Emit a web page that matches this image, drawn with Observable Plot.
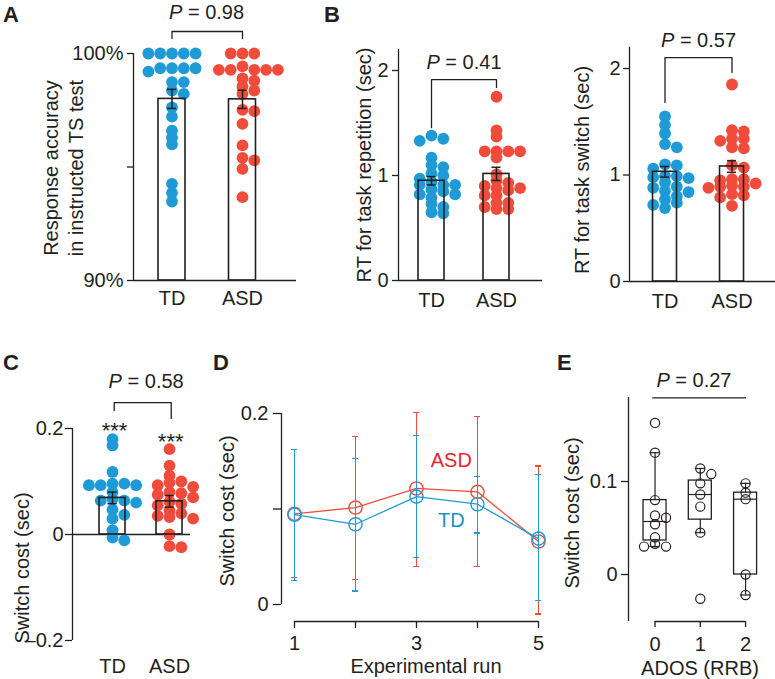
<!DOCTYPE html>
<html><head><meta charset="utf-8">
<script src="https://cdn.jsdelivr.net/npm/d3@7"></script>
<script src="https://cdn.jsdelivr.net/npm/@observablehq/plot@0.6"></script>
<style>
body{margin:0;background:#fff;}
#fig{position:relative;width:775px;height:679px;overflow:hidden;font-family:"Liberation Sans",Arial,Helvetica,sans-serif;color:#231f20;background:#fff;}
.lbl{position:absolute;white-space:nowrap;font-size:20px;line-height:1;transform:translate(-50%,-50%);}
.rot{transform:translate(-50%,-50%) rotate(-90deg);}
.letter{position:absolute;font-weight:bold;font-size:22px;line-height:1;}
</style></head><body><div id="fig"></div>
<script>
// ---------------- data ----------------
const groups = ["TD", "ASD"];
// A: response accuracy (%)
const accTD = [100,100,100,100,100,99.35,99.35,99.35,99.35,99.2,98.74,98.74,98.37,98.22,97.63,97.22,96.6,96.29,96.0,94.26,93.86,93.48];
const accASD = [100,100,100,99.43,99.28,99.28,99.28,99.28,99.28,98.9,98.8,98.55,98.37,98.22,97.52,97.46,96.9,95.95,95.4,95.29,94.92,93.67];
const accMean = [98.0, 97.98];
const accSem = [0.42, 0.40];
// B: RT task repetition (sec)
const rtRepTD = [1.38,1.35,1.33,1.17,1.10,1.08,1.02,1.00,0.97,0.94,0.91,0.91,0.91,0.87,0.85,0.82,0.82,0.79,0.73,0.70,0.65,0.64];
const rtRepASD = [1.75,1.43,1.37,1.23,1.23,1.23,1.23,1.17,1.01,0.95,0.93,0.90,0.88,0.88,0.86,0.81,0.81,0.74,0.74,0.70,0.68,0.68];
const rtRepMean = [0.95, 1.015];
const rtRepSem = [0.04, 0.063];
// B: RT task switch (sec)
const rtSwTD = [1.55,1.47,1.39,1.29,1.26,1.10,1.09,1.06,0.99,0.99,0.98,0.97,0.93,0.89,0.88,0.85,0.84,0.80,0.77,0.74,0.72,0.69];
const rtSwASD = [1.85,1.42,1.41,1.34,1.34,1.32,1.26,1.25,1.09,1.07,0.96,0.96,0.95,0.92,0.90,0.89,0.89,0.88,0.82,0.81,0.79,0.71];
const rtSwMean = [1.03, 1.08];
const rtSwSem = [0.05, 0.055];
// C: switch cost (sec)
const costTD = [0.180,0.168,0.118,0.096,0.096,0.093,0.093,0.093,0.080,0.067,0.064,0.064,0.060,0.047,0.037,0.030,0.008,-0.006,-0.011];
const costASD = [0.161,0.130,0.111,0.100,0.098,0.093,0.090,0.080,0.078,0.075,0.070,0.062,0.058,0.055,0.045,0.040,0.035,0.033,0.030,0.000,-0.024,-0.022];
const costMean = [0.069, 0.0626];
const costSem = [0.011, 0.011];
// D: switch cost by experimental run
const runs = [1, 2, 3, 4, 5];
const runASD = [0.095, 0.1015, 0.1215, 0.118, 0.066];
const runASDlo = [0.028, 0.026, 0.040, 0.040, -0.010];
const runASDhi = [0.162, 0.176, 0.201, 0.197, 0.145];
const runTD = [0.094, 0.084, 0.113, 0.105, 0.069];
const runTDlo = [0.025, 0.014, 0.049, 0.075, 0.004];
const runTDhi = [0.162, 0.153, 0.177, 0.134, 0.136];
// E: switch cost by ADOS (RRB)
const adosLevels = [0, 1, 2];
const ados0 = [0.163,0.131,0.080,0.0634,0.061,0.054,0.040,0.033,0.030,0.030];
const ados1 = [0.114,0.108,0.098,0.086,0.073,0.045,-0.026];
const ados2 = [0.098,0.088,0.081,0.0,-0.022];
const boxQ1 = [0.0366, 0.059, 0.0];
const boxMed = [0.057, 0.086, 0.081];
const boxQ3 = [0.080, 0.101, 0.088];
const boxLo = [0.030, 0.045, -0.022];
const boxHi = [0.131, 0.114, 0.098];
// p values
const pA = "0.98", pB1 = "0.41", pB2 = "0.57", pC = "0.58", pE = "0.27";

// ---------------- style ----------------
const BLUE = "#1e9bd6", RED = "#f04b3b", INK = "#231f20";
const STYLE = "position:absolute;left:0;top:0;background:transparent;overflow:visible;font-family:'Liberation Sans',Arial,sans-serif;font-size:20px;color:#231f20;";
const fig = document.getElementById("fig");

// beeswarm layout (pixel-space greedy, grid steps)
function swarm(vals, center, yPx, xPx, step, collide) {
  const placed = [];
  const order = vals.map(v => v).sort((a, b) => b - a);
  for (const v of order) {
    const py = v * yPx;
    for (let k = 0; k < 60; k++) {
      const off = k === 0 ? 0 : (k % 2 ? Math.ceil(k / 2) : -k / 2) * step;
      if (placed.every(q => Math.hypot(q.ox - off, q.py - py) >= collide)) {
        placed.push({v, py, ox: off});
        break;
      }
    }
  }
  return placed.map(p => ({value: p.v, x: center + p.ox / xPx}));
}

function frameOpts(c) {
  return {
    width: 775, height: 679,
    marginLeft: c.left, marginRight: 775 - c.right, marginTop: c.top, marginBottom: 679 - c.bottom,
    x: {domain: c.xDomain, label: null},
    y: {domain: c.yDomain, label: null},
    style: STYLE
  };
}

function barPanel(c) {
  const xPx = (c.right - c.left) / (c.xDomain[1] - c.xDomain[0]);
  const yPx = (c.bottom - c.top) / (c.yDomain[1] - c.yDomain[0]);
  const dTD = swarm(c.td, 0, yPx, xPx, 11.8, 6);
  const dASD = swarm(c.asd, 1, yPx, xPx, 11.8, 6);
  const bars = groups.map((g, i) => ({i, mean: c.means[i], sem: c.sems[i]}));
  const caps = bars.flatMap(b => [b.mean - b.sem, b.mean + b.sem].map(y => ({i: b.i, y})));
  const bh = c.barPx / 2 / xPx, ch = 4.5 / xPx;
  const marks = [
    Plot.ruleX([0], {x: () => c.xDomain[0], y1: () => c.yDomain[0], y2: () => c.yDomain[1], stroke: INK, strokeWidth: 1.3}),
    Plot.ruleY([c.base], {stroke: INK, strokeWidth: 1.3}),
    Plot.dot(dTD, {x: "x", y: "value", r: 5.9, fill: BLUE}),
    Plot.dot(dASD, {x: "x", y: "value", r: 5.9, fill: RED}),
    Plot.rect(bars, {x1: d => d.i - bh, x2: d => d.i + bh, y1: () => c.base, y2: "mean", fill: "none", stroke: INK, strokeWidth: 1.6}),
    Plot.ruleX(bars, {x: "i", y1: d => d.mean - d.sem, y2: d => d.mean + d.sem, stroke: INK, strokeWidth: 1.5}),
    Plot.ruleY(caps, {y: "y", x1: d => d.i - ch, x2: d => d.i + ch, stroke: INK, strokeWidth: 1.5}),
    Plot.line(c.bracket, {x: d => d[0], y: d => d[1], stroke: INK, strokeWidth: 1.3}),
    Plot.text([c.p], {x: d => d.x, y: d => d.y, text: d => "P = " + d.v, fontSize: 20, fill: INK}),
    Plot.axisY({ticks: c.yTicks, tickFormat: c.yFmt, tickSize: c.yTickSize, tickPadding: c.yPad, fontSize: 20, stroke: INK, strokeWidth: 1.3, label: null}),
    Plot.axisX({ticks: [0, 1], tickFormat: i => groups[i], tickSize: 0, tickPadding: c.xPad, fontSize: 20, label: null})
  ];
  if (c.stars) marks.push(Plot.text(c.stars, {x: d => d.x, y: d => d.y, text: () => "***", fontSize: 22, fill: INK}));
  return Plot.plot({...frameOpts(c), marks});
}

const panels = [];
// A
panels.push(barPanel({
  left: 133, right: 296, top: 53, bottom: 280, xDomain: [-0.546, 1.766], yDomain: [90, 100], base: 90,
  td: accTD, asd: accASD, means: accMean, sems: accSem, barPx: 27,
  yTicks: [90, 95, 100], yFmt: d => d === 95 ? "" : d + "%", yTickSize: 6, yPad: 4, xPad: 10,
  bracket: [[0, 100.66], [0, 100.97], [1, 100.97], [1, 100.66]],
  p: {x: 0.49, y: 101.8, v: pA}
}));
// B1
panels.push(barPanel({
  left: 398, right: 542, top: 49, bottom: 280, xDomain: [-0.508, 1.708], yDomain: [0, 2.2], base: 0,
  td: rtRepTD, asd: rtRepASD, means: rtRepMean, sems: rtRepSem, barPx: 26,
  yTicks: [0, 1, 2], yFmt: d => String(d), yTickSize: 6, yPad: 4, xPad: 12,
  bracket: [[0, 1.457], [0, 1.914], [1, 1.914], [1, 1.838]],
  p: {x: 0.5, y: 2.08, v: pB1}
}));
// B2
panels.push(barPanel({
  left: 629, right: 775, top: 46.7, bottom: 281, xDomain: [-0.53, 1.649], yDomain: [0, 2.2], base: 0,
  td: rtSwTD, asd: rtSwASD, means: rtSwMean, sems: rtSwSem, barPx: 24,
  yTicks: [0, 1, 2], yFmt: d => String(d), yTickSize: 6, yPad: 3, xPad: 12,
  bracket: [[0, 1.681], [0, 2.103], [1, 2.103], [1, 1.962]],
  p: {x: 0.5, y: 2.258, v: pB2}
}));
// C
panels.push(barPanel({
  left: 72, right: 190, top: 428, bottom: 640, xDomain: [-0.702, 1.368], yDomain: [-0.2, 0.2], base: 0,
  td: costTD, asd: costASD, means: costMean, sems: costSem, barPx: 26,
  yTicks: [-0.2, 0, 0.2], yFmt: d => d === 0 ? "0" : (d < 0 ? "\u20130.2" : "0.2"), yTickSize: 7, yPad: 2, xPad: 18,
  bracket: [[0.03, 0.234], [0.03, 0.249], [1.03, 0.249], [1.03, 0.219]],
  p: {x: 0.59, y: 0.2887, v: pC},
  stars: [{x: 0.035, y: 0.196}, {x: 1.02, y: 0.174}]
}));

// D
(function () {
  const c = {left: 281, right: 545, top: 413, bottom: 621, xDomain: [1 - 13 / 61, 5 + 7 / 61], yDomain: [-0.0178, 0.2]};
  const series = [
    {color: RED, m: runASD, lo: runASDlo, hi: runASDhi},
    {color: BLUE, m: runTD, lo: runTDlo, hi: runTDhi}
  ];
  const marks = [
    Plot.ruleX([0], {x: () => c.xDomain[0], y1: () => 0, y2: () => 0.2, stroke: INK, strokeWidth: 1.3}),
    Plot.ruleY([c.yDomain[0]], {x1: () => 1, x2: () => 5, stroke: INK, strokeWidth: 1.3}),
    Plot.axisY({ticks: [0, 0.1, 0.2], tickFormat: d => d === 0 ? "0" : d === 0.2 ? "0.2" : "", tickSize: 8, tickPadding: 5, fontSize: 20, stroke: INK, strokeWidth: 1.3, label: null}),
    Plot.axisX({ticks: runs, tickFormat: d => d % 2 ? String(d) : "", tickSize: 7, tickPadding: 7, fontSize: 20, stroke: INK, strokeWidth: 1.3, label: null})
  ];
  for (const s of series) {
    const pts = runs.map((r, i) => ({run: r, mean: s.m[i], lo: s.lo[i], hi: s.hi[i]}));
    const caps = pts.flatMap(p => [p.lo, p.hi].map(y => ({run: p.run, y})));
    marks.push(
      Plot.ruleX(pts, {x: "run", y1: "lo", y2: "hi", stroke: s.color, strokeWidth: 1.3, shapeRendering: "crispEdges"}),
      Plot.ruleY(caps, {y: "y", x1: d => d.run - 0.05, x2: d => d.run + 0.05, stroke: s.color, strokeWidth: 1.3, shapeRendering: "crispEdges"}),
      Plot.line(pts, {x: "run", y: "mean", stroke: s.color, strokeWidth: 1.3}),
      Plot.dot(pts, {x: "run", y: "mean", r: 6.6, stroke: s.color, strokeWidth: 1.4, fill: "none"})
    );
  }
  marks.push(
    Plot.text(["ASD"], {x: () => 3.57, y: () => 0.1508, text: d => d, fill: "#e8262d", fontSize: 20}),
    Plot.text(["TD"], {x: () => 3.57, y: () => 0.088, text: d => d, fill: "#1b8fcb", fontSize: 20})
  );
  panels.push(Plot.plot({...frameOpts(c), marks}));
})();

// E
(function () {
  const c = {left: 628, right: 765, top: 397, bottom: 621, xDomain: [-0.586, 2.44], yDomain: [-0.0505, 0.1903]};
  const xPx = (c.right - c.left) / (c.xDomain[1] - c.xDomain[0]);
  const yPx = (c.bottom - c.top) / (c.yDomain[1] - c.yDomain[0]);
  const vals = [ados0, ados1, ados2];
  const pts = vals.flatMap((v, i) => swarm(v, adosLevels[i], yPx, xPx, 11, 6));
  const boxes = adosLevels.map((l, i) => ({l, q1: boxQ1[i], med: boxMed[i], q3: boxQ3[i], lo: boxLo[i], hi: boxHi[i]}));
  const bh = 11.5 / xPx, ch = 5 / xPx;
  const caps = boxes.flatMap(b => [b.lo, b.hi].map(y => ({l: b.l, y})));
  const marks = [
    Plot.ruleX([0], {x: () => c.xDomain[0], y1: () => c.yDomain[0], y2: () => c.yDomain[1], stroke: INK, strokeWidth: 1.3}),
    Plot.ruleY([c.yDomain[0]], {x1: () => 0, x2: () => 2, stroke: INK, strokeWidth: 1.3}),
    Plot.axisY({ticks: [0, 0.1], tickFormat: d => d === 0 ? "0" : "0.1", tickSize: 7, tickPadding: 4, fontSize: 20, stroke: INK, strokeWidth: 1.3, label: null}),
    Plot.axisX({ticks: adosLevels, tickFormat: d => String(d), tickSize: 6, tickPadding: 9, fontSize: 20, stroke: INK, strokeWidth: 1.3, label: null}),
    Plot.ruleX(boxes, {x: "l", y1: "q3", y2: "hi", stroke: INK, strokeWidth: 1.2}),
    Plot.ruleX(boxes, {x: "l", y1: "lo", y2: "q1", stroke: INK, strokeWidth: 1.2}),
    Plot.ruleY(caps, {y: "y", x1: d => d.l - ch, x2: d => d.l + ch, stroke: INK, strokeWidth: 1.2}),
    Plot.rect(boxes, {x1: d => d.l - bh, x2: d => d.l + bh, y1: "q1", y2: "q3", fill: "none", stroke: INK, strokeWidth: 1.3}),
    Plot.ruleY(boxes, {y: "med", x1: d => d.l - bh, x2: d => d.l + bh, stroke: INK, strokeWidth: 1.2}),
    Plot.dot(pts, {x: "x", y: "value", r: 4.6, stroke: INK, strokeWidth: 1.2, fill: "none"}),
    Plot.ruleY([0.19], {x1: () => -0.05, x2: () => 2.02, stroke: INK, strokeWidth: 1.3}),
    Plot.text([pE], {x: () => 0.86, y: () => 0.209, text: d => "P = " + d, fontSize: 20, fill: INK})
  ];
  panels.push(Plot.plot({...frameOpts(c), marks}));
})();

for (const svg of panels) {
  // italic P in p-value labels
  d3.select(svg).selectAll("text").each(function () {
    const t = this.textContent;
    if (/^P = /.test(t) && this.childElementCount === 0) {
      const sel = d3.select(this);
      sel.text(null);
      sel.append("tspan").attr("font-style", "italic").text("P");
      sel.append("tspan").text(t.slice(1));
    }
  });
  fig.appendChild(svg);
}

// panel letters and axis titles
const letters = [["A", 3, 4], ["B", 324, 4], ["C", 3, 352], ["D", 213, 352], ["E", 557, 352]];
for (const [t, x, y] of letters) {
  const d = document.createElement("div");
  d.className = "letter"; d.textContent = t; d.style.left = x + "px"; d.style.top = y + "px";
  fig.appendChild(d);
}
const yTitles = [["Response accuracy", 51, 168], ["in instructed TS test", 75.5, 168],
  ["RT for task repetition (sec)", 364, 165], ["RT for task switch (sec)", 582, 170],
  ["Switch cost (sec)", 22, 568], ["Switch cost (sec)", 227, 511], ["Switch cost (sec)", 572, 513]];
for (const [t, x, y] of yTitles) {
  const d = document.createElement("div");
  d.className = "lbl rot"; d.textContent = t; d.style.left = x + "px"; d.style.top = y + "px";
  fig.appendChild(d);
}
const xTitles = [["Experimental run", 426, 666], ["ADOS (RRB)", 700, 668]];
for (const [t, x, y] of xTitles) {
  const d = document.createElement("div");
  d.className = "lbl"; d.textContent = t; d.style.left = x + "px"; d.style.top = y + "px";
  fig.appendChild(d);
}
</script></body></html>
